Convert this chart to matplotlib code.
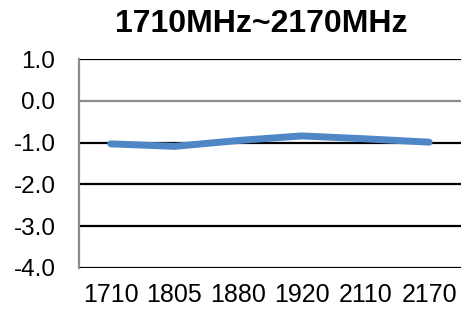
import matplotlib
matplotlib.use("Agg")
import matplotlib.pyplot as plt

categories = ["1710", "1805", "1880", "1920", "2110", "2170"]
values = [-1.03, -1.09, -0.95, -0.84, -0.91, -0.99]
yticks = [1.0, 0.0, -1.0, -2.0, -3.0, -4.0]

plt.rcParams['font.family'] = ['Liberation Sans', 'DejaVu Sans']

fig = plt.figure(figsize=(4.62, 3.15), dpi=100)
ax = fig.add_axes([79/462, 1 - 268/315, (461-79)/462, (268-59)/315])

x = list(range(len(categories)))
ax.set_xlim(-0.5, len(categories) - 0.5)
ax.set_ylim(-4.0, 1.0)
for t in yticks:
    col = '#8c8c8c' if t == 0.0 else 'black'
    ax.axhline(t, color=col, lw=1.6, zorder=1)
ax.plot(x, values, color='#4f86c6', lw=5, solid_capstyle='round', solid_joinstyle='round', zorder=3)

ax.set_yticks(yticks)
ax.set_yticklabels([f"{t:.1f}" for t in yticks], fontsize=17.5)
ax.set_xticks(x)
ax.set_xticklabels(categories, fontsize=18)
ax.tick_params(axis='x', length=0, pad=11)
ax.tick_params(axis='y', length=0, pad=17)
for s in ['top', 'right', 'bottom']:
    ax.spines[s].set_visible(False)
ax.spines['left'].set_color('#8c8c8c')
ax.spines['left'].set_linewidth(1.6)

fig.text(261.5/462, 1 - 24/315, "1710MHz~2170MHz", ha='center', va='center',
         fontsize=23, fontweight='bold')
fig.savefig("out.png", dpi=100)
